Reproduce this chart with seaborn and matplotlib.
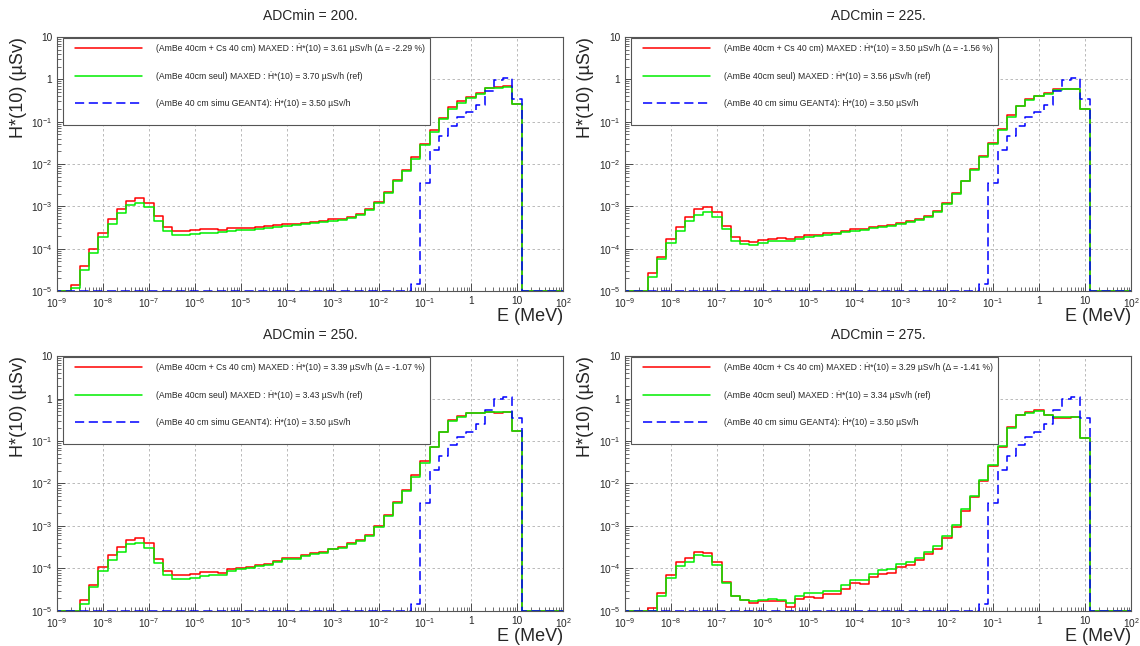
import numpy as np
import matplotlib
matplotlib.use("Agg")
import matplotlib.pyplot as plt
from matplotlib.patches import Rectangle
from matplotlib.ticker import LogLocator, NullFormatter
import seaborn as sns

# bin edges in log10(E / MeV), 5 bins per decade
log_edges = np.round(np.arange(-9.1, 2.11, 0.2), 1)
first_bin = 2      # stored series start at the bin 10^-8.7 .. 10^-8.5 MeV

adc_values = [200, 225, 250, 275]
h_maxed_cs = [3.61, 3.50, 3.39, 3.29]
delta_pct = [-2.29, -1.56, -1.07, -1.41]
h_maxed_ref = [3.70, 3.56, 3.43, 3.34]
h_geant4 = 3.50

# (AmBe 40cm + Cs 40 cm) MAXED, one list per ADCmin
cs_200 = [1.4e-5, 3.8e-5, 9.7e-5, 2.3e-4, 5.0e-4, 8.7e-4, 1.32e-3, 1.55e-3, 1.23e-3, 6.0e-4,
          3.2e-4, 2.55e-4, 2.6e-4, 2.7e-4, 2.85e-4, 2.9e-4, 2.8e-4, 3.0e-4, 3.1e-4, 3.15e-4,
          3.3e-4, 3.4e-4, 3.6e-4, 3.8e-4, 3.9e-4, 4.1e-4, 4.3e-4, 4.4e-4, 4.9e-4, 5.1e-4,
          5.6e-4, 6.6e-4, 8.6e-4, 1.3e-3, 2.2e-3, 4.2e-3, 7.3e-3, 1.45e-2, 3.0e-2, 6.2e-2,
          0.125, 0.22, 0.31, 0.38, 0.47, 0.64, 0.66, 0.68, 0.26]
cs_225 = [0, 2.6e-5, 6.5e-5, 1.65e-4, 3.3e-4, 5.5e-4, 8.5e-4, 9.8e-4, 7.2e-4, 3.5e-4,
          1.85e-4, 1.5e-4, 1.45e-4, 1.6e-4, 1.7e-4, 1.75e-4, 1.7e-4, 1.9e-4, 2.05e-4, 2.15e-4,
          2.3e-4, 2.4e-4, 2.65e-4, 2.85e-4, 2.95e-4, 3.3e-4, 3.5e-4, 3.6e-4, 4.1e-4, 4.4e-4,
          4.9e-4, 6.0e-4, 7.8e-4, 1.2e-3, 2.1e-3, 4.0e-3, 7.6e-3, 1.55e-2, 3.2e-2, 6.8e-2,
          0.14, 0.24, 0.34, 0.41, 0.47, 0.58, 0.58, 0.6, 0.2]
cs_250 = [0, 1.85e-5, 4.2e-5, 1.07e-4, 2.1e-4, 3.2e-4, 4.8e-4, 5.1e-4, 3.9e-4, 1.7e-4,
          8.5e-5, 7.2e-5, 7.0e-5, 7.6e-5, 8.2e-5, 8.4e-5, 7.8e-5, 9.5e-5, 1.03e-4, 1.07e-4,
          1.22e-4, 1.3e-4, 1.5e-4, 1.75e-4, 1.75e-4, 2.1e-4, 2.35e-4, 2.4e-4, 2.95e-4, 3.2e-4,
          3.9e-4, 4.7e-4, 6.2e-4, 1.0e-3, 1.8e-3, 3.7e-3, 7.2e-3, 1.55e-2, 3.3e-2, 7.4e-2,
          0.165, 0.31, 0.38, 0.46, 0.46, 0.48, 0.45, 0.47, 0.17]
cs_275 = [0, 1.15e-5, 2.65e-5, 7.2e-5, 1.4e-4, 1.75e-4, 2.5e-4, 2.3e-4, 1.4e-4, 4.7e-5,
          2.3e-5, 1.78e-5, 1.55e-5, 1.7e-5, 1.75e-5, 1.7e-5, 1.25e-5, 1.9e-5, 2.1e-5, 2.0e-5,
          2.45e-5, 2.5e-5, 3.3e-5, 4.5e-5, 4.3e-5, 6.2e-5, 7.5e-5, 8.0e-5, 1.1e-4, 1.2e-4,
          1.6e-4, 2.2e-4, 2.9e-4, 5.3e-4, 9.5e-4, 2.3e-3, 4.8e-3, 1.15e-2, 2.6e-2, 7.2e-2,
          0.21, 0.42, 0.48, 0.55, 0.4, 0.35, 0.35, 0.36, 0.12]

# (AmBe 40cm seul) MAXED
ref_200 = [1.2e-5, 3.06e-5, 7.8e-5, 1.85e-4, 3.8e-4, 6.8e-4, 1.05e-3, 1.19e-3, 9.4e-4, 4.6e-4,
           2.66e-4, 2.08e-4, 2.1e-4, 2.2e-4, 2.3e-4, 2.4e-4, 2.45e-4, 2.6e-4, 2.7e-4, 2.8e-4,
           2.95e-4, 3.0e-4, 3.2e-4, 3.5e-4, 3.6e-4, 3.9e-4, 4.1e-4, 4.2e-4, 4.5e-4, 4.8e-4,
           5.3e-4, 6.1e-4, 8.0e-4, 1.2e-3, 2.05e-3, 3.9e-3, 6.8e-3, 1.35e-2, 2.8e-2, 5.7e-2,
           0.118, 0.2, 0.28, 0.36, 0.44, 0.62, 0.64, 0.67, 0.26]
ref_225 = [0, 2.2e-5, 5.6e-5, 1.35e-4, 2.6e-4, 4.4e-4, 6.4e-4, 7.4e-4, 5.7e-4, 2.9e-4,
           1.55e-4, 1.27e-4, 1.25e-4, 1.38e-4, 1.48e-4, 1.55e-4, 1.52e-4, 1.7e-4, 1.85e-4, 1.95e-4,
           2.1e-4, 2.2e-4, 2.45e-4, 2.65e-4, 2.8e-4, 3.1e-4, 3.3e-4, 3.4e-4, 3.9e-4, 4.2e-4,
           4.7e-4, 5.7e-4, 7.5e-4, 1.15e-3, 2.0e-3, 3.9e-3, 7.3e-3, 1.45e-2, 3.0e-2, 6.3e-2,
           0.13, 0.23, 0.32, 0.40, 0.46, 0.57, 0.58, 0.6, 0.2]
ref_250 = [0, 1.5e-5, 3.6e-5, 8.6e-5, 1.62e-4, 2.5e-4, 3.7e-4, 3.95e-4, 3.0e-4, 1.32e-4,
           7.0e-5, 5.8e-5, 5.8e-5, 6.1e-5, 6.7e-5, 7.2e-5, 7.0e-5, 8.5e-5, 9.6e-5, 1.0e-4,
           1.15e-4, 1.22e-4, 1.4e-4, 1.65e-4, 1.68e-4, 2.0e-4, 2.25e-4, 2.3e-4, 2.85e-4, 3.05e-4,
           3.7e-4, 4.5e-4, 5.9e-4, 9.6e-4, 1.75e-3, 3.5e-3, 6.8e-3, 1.45e-2, 3.1e-2, 7.1e-2,
           0.16, 0.3, 0.37, 0.45, 0.45, 0.49, 0.47, 0.48, 0.17]
ref_275 = [0, 1.0e-5, 2.2e-5, 5.9e-5, 1.17e-4, 1.4e-4, 2.05e-4, 1.95e-4, 1.2e-4, 4.5e-5,
           2.3e-5, 1.8e-5, 1.7e-5, 1.85e-5, 1.9e-5, 1.8e-5, 1.55e-5, 2.3e-5, 2.6e-5, 2.6e-5,
           3.0e-5, 3.0e-5, 4.0e-5, 5.5e-5, 5.5e-5, 7.5e-5, 9.0e-5, 9.5e-5, 1.3e-4, 1.4e-4,
           1.8e-4, 2.5e-4, 3.3e-4, 5.8e-4, 1.05e-3, 2.5e-3, 5.0e-3, 1.2e-2, 2.7e-2, 7.5e-2,
           0.2, 0.4, 0.46, 0.5, 0.42, 0.37, 0.36, 0.36, 0.12]

# (AmBe 40 cm simu GEANT4), same in all panels
geant4 = [0] * 37 + [1.5e-5, 3.5e-3, 0.021, 0.045, 0.081, 0.126, 0.166, 0.25, 0.54, 0.98, 1.07, 0.34]

cs_series = [cs_200, cs_225, cs_250, cs_275]
ref_series = [ref_200, ref_225, ref_250, ref_275]

x_tick_labels = ["$10^{-9}$", "$10^{-8}$", "$10^{-7}$", "$10^{-6}$", "$10^{-5}$", "$10^{-4}$",
                 "$10^{-3}$", "$10^{-2}$", "$10^{-1}$", "1", "10", "$10^{2}$"]
y_tick_labels = ["$10^{-5}$", "$10^{-4}$", "$10^{-3}$", "$10^{-2}$", "$10^{-1}$", "1", "10"]

YMIN, YMAX = 1e-5, 10

sns.set_style("white")
plt.rcParams["font.family"] = ["Liberation Sans", "DejaVu Sans"]
plt.rcParams["mathtext.fontset"] = "custom"
plt.rcParams["mathtext.rm"] = "Liberation Sans"
plt.rcParams["mathtext.default"] = "regular"

edges = 10.0 ** log_edges
n_bins = len(edges) - 1


def steps(values):
    full = np.zeros(n_bins)
    full[first_bin:first_bin + len(values)] = values
    # ROOT draws empty bins on the frame minimum
    full = np.maximum(full, YMIN)
    return np.append(full, full[-1])


fig = plt.figure(figsize=(11.4, 6.46), dpi=100)
positions = [[0.05, 0.5495, 0.4439, 0.3932], [0.5482, 0.5495, 0.4439, 0.3932],
             [0.05, 0.0542, 0.4439, 0.3947], [0.5482, 0.0542, 0.4439, 0.3947]]

for i, pos in enumerate(positions):
    ax = fig.add_axes(pos)
    ax.set_xscale("log")
    ax.set_yscale("log")

    lab_cs = f"(AmBe 40cm + Cs 40 cm) MAXED : Ḣ*(10) = {h_maxed_cs[i]:.2f} µSv/h (Δ = {delta_pct[i]:.2f} %)"
    lab_ref = f"(AmBe 40cm seul) MAXED : Ḣ*(10) = {h_maxed_ref[i]:.2f} µSv/h (ref)"
    lab_g4 = f"(AmBe 40 cm simu GEANT4): Ḣ*(10) = {h_geant4:.2f} µSv/h"

    sns.lineplot(x=edges, y=steps(cs_series[i]), drawstyle="steps-post", color="#ff0000",
                 lw=1.1, estimator=None, sort=False, label=lab_cs, ax=ax)
    sns.lineplot(x=edges, y=steps(ref_series[i]), drawstyle="steps-post", color="#00ee00",
                 lw=1.1, estimator=None, sort=False, label=lab_ref, ax=ax)
    sns.lineplot(x=edges, y=steps(geant4), drawstyle="steps-post", color="#0000ff",
                 lw=1.1, ls=(0, (6, 3)), estimator=None, sort=False, label=lab_g4, ax=ax)

    ax.set_xlim(1e-9, 1e2)
    ax.set_ylim(YMIN, YMAX)
    ax.set_xticks(10.0 ** np.arange(-9, 3))
    ax.set_xticklabels(x_tick_labels)
    ax.set_yticks(10.0 ** np.arange(-5, 2))
    ax.set_yticklabels(y_tick_labels)
    for axis in (ax.xaxis, ax.yaxis):
        axis.set_minor_locator(LogLocator(base=10, subs=np.arange(2, 10), numticks=100))
        axis.set_minor_formatter(NullFormatter())
    ax.tick_params(which="both", direction="in", bottom=True, left=True, top=False,
                   right=False, color="#333333", labelsize=7.3)
    ax.tick_params(which="major", length=5.5, width=0.6, pad=3.5)
    ax.tick_params(which="minor", length=3, width=0.5)
    ax.grid(which="major", ls=(0, (3, 3)), color="#b0b0b0", lw=0.6)
    ax.grid(which="minor", visible=False)
    for sp in ax.spines.values():
        sp.set_color("#555555")
        sp.set_linewidth(0.8)

    ax.set_xlabel("")
    ax.set_ylabel("")
    ax.set_title(f"ADCmin = {adc_values[i]}.", fontsize=10, pad=12)
    ax.text(-0.077, 1.0, "H*(10) (µSv)", rotation=90, ha="center", va="top",
            fontsize=13, transform=ax.transAxes)
    ax.text(1.0, -0.1, "E (MeV)", ha="right", va="center", fontsize=13,
            transform=ax.transAxes)

    ax.add_patch(Rectangle((0.012, 0.654), 0.726, 0.341, transform=ax.transAxes,
                           facecolor="white", edgecolor="#555555", lw=0.8, zorder=4))
    leg = ax.legend(loc="upper left", bbox_to_anchor=(0.03, 0.985), frameon=False,
                    borderaxespad=0, borderpad=0.3, handlelength=7.8, handletextpad=1.6,
                    labelspacing=2.05, fontsize=6.2)
    leg.set_zorder(6)

fig.savefig("out.png", dpi=100)
